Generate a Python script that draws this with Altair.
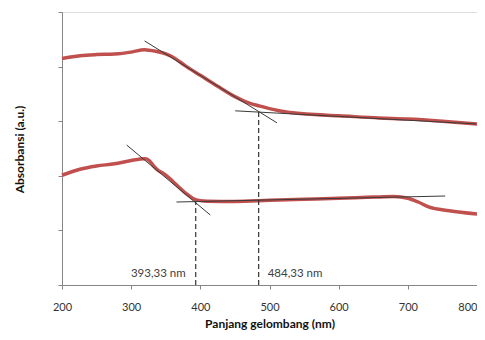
import altair as alt
import pandas as pd

# Upper spectrum (nm, absorbance a.u.)
upper_nm = [200, 226, 250, 276, 302, 319, 336, 351, 358, 380, 400, 425, 450, 465, 485, 500, 514, 530, 553, 600, 658, 700, 750, 800]
upper_ab = [4.15, 4.20, 4.22, 4.23, 4.27, 4.31, 4.28, 4.23, 4.19, 4.00, 3.84, 3.64, 3.45, 3.36, 3.28, 3.23, 3.19, 3.16, 3.13, 3.10, 3.06, 3.04, 3.00, 2.95]

# Lower spectrum
lower_nm = [200, 226, 250, 276, 300, 320, 326, 333, 340, 347, 355, 365, 380, 390, 400, 410, 450, 500, 550, 600, 650, 680, 700, 715, 730, 760, 800]
lower_ab = [2.01, 2.12, 2.18, 2.22, 2.28, 2.31, 2.28, 2.17, 2.09, 2.04, 1.96, 1.84, 1.67, 1.58, 1.545, 1.535, 1.53, 1.55, 1.57, 1.59, 1.61, 1.62, 1.59, 1.52, 1.43, 1.36, 1.30]

# Tangent segments: (segment id, start nm, start value, end nm, end value)
tan_seg = ["up_steep", "up_flat", "lo_steep", "lo_flat"]
tan_x1 = [319.4, 450.4, 293.5, 365.5]
tan_y1 = [4.47, 3.19, 2.564, 1.52]
tan_x2 = [510.8, 798.6, 414.4, 754.0]
tan_y2 = [2.97, 2.95, 1.282, 1.63]

# Onset markers
onset_nm = [393.33, 484.33]
onset_ab = [1.528, 3.172]
onset_txt = ["393,33 nm", "484,33 nm"]

x_ticks = [200, 300, 400, 500, 600, 700, 800]
y_ticks = [0, 1, 2, 3, 4, 5]

up = pd.DataFrame({"nm": upper_nm, "ab": upper_ab, "s": "a"})
lo = pd.DataFrame({"nm": lower_nm, "ab": lower_ab, "s": "b"})
curves = pd.concat([up, lo])

tan_rows = []
for s, a, b, c, d in zip(tan_seg, tan_x1, tan_y1, tan_x2, tan_y2):
    tan_rows.append({"seg": s, "nm": a, "ab": b})
    tan_rows.append({"seg": s, "nm": c, "ab": d})
tan = pd.DataFrame(tan_rows)

ons = pd.DataFrame({"nm": onset_nm, "ab": onset_ab, "txt": onset_txt, "zero": [0, 0], "ty": [0.2, 0.2]})

font = "Lato"
xs = alt.Scale(domain=[200, 800], nice=False)
ys = alt.Scale(domain=[0, 5], nice=False)

xaxis = alt.Axis(values=x_ticks, grid=False, domainColor="#868686",
                 tickColor="#868686", tickSize=4, labelPadding=12, labelFont=font, labelFontSize=11,
                 labelColor="#333333", labelFlush=False,
                 labelAlign=alt.ExprRef(expr="datum.value == 800 ? 'right' : 'center'"),
                 title="Panjang gelombang (nm)", titleFont=font,
                 titleFontSize=12, titleFontWeight="bold", titleColor="#111111",
                 titleBaseline="middle", titleY=38)
yaxis = alt.Axis(values=y_ticks, grid=False, labels=False, domainColor="#868686",
                 tickColor="#868686", tickSize=4, title="Absorbansi (a.u.)", titleFont=font,
                 titleFontSize=12, titleFontWeight="bold", titleColor="#111111",
                 titleX=-43, titleY=137, titleAngle=-90, titleBaseline="middle", titleAlign="center")

lines = alt.Chart(curves).mark_line(color="#C0504D", strokeWidth=3.5, interpolate="monotone").encode(
    x=alt.X("nm:Q", scale=xs, axis=xaxis),
    y=alt.Y("ab:Q", scale=ys, axis=yaxis),
    detail="s:N",
)

tangents = alt.Chart(tan).mark_line(color="#3a3a3a", strokeWidth=1).encode(
    x=alt.X("nm:Q", scale=xs), y=alt.Y("ab:Q", scale=ys), detail="seg:N"
)

rules = alt.Chart(ons).mark_rule(color="#333333", strokeWidth=1.2, strokeDash=[5, 3]).encode(
    x=alt.X("nm:Q", scale=xs), y=alt.Y("zero:Q", scale=ys), y2="ab:Q"
)

lab1 = alt.Chart(ons.iloc[[0]]).mark_text(align="right", baseline="middle", dx=-10, font=font,
                                          fontSize=11.5, color="#404040").encode(
    x=alt.X("nm:Q", scale=xs), y=alt.Y("ty:Q", scale=ys), text="txt:N"
)
lab2 = alt.Chart(ons.iloc[[1]]).mark_text(align="left", baseline="middle", dx=9, font=font,
                                          fontSize=11.5, color="#404040").encode(
    x=alt.X("nm:Q", scale=xs), y=alt.Y("ty:Q", scale=ys), text="txt:N"
)

chart = alt.layer(lines, tangents, rules, lab1, lab2).properties(
    width=415, height=273,
    autosize=alt.AutoSizeParams(type="none"),
    padding={"left": 54, "top": 4, "right": 0, "bottom": 47},
).configure_view(stroke=None).configure(background="white")

chart.save("out.html", embed_options={"renderer": "svg", "actions": False})
